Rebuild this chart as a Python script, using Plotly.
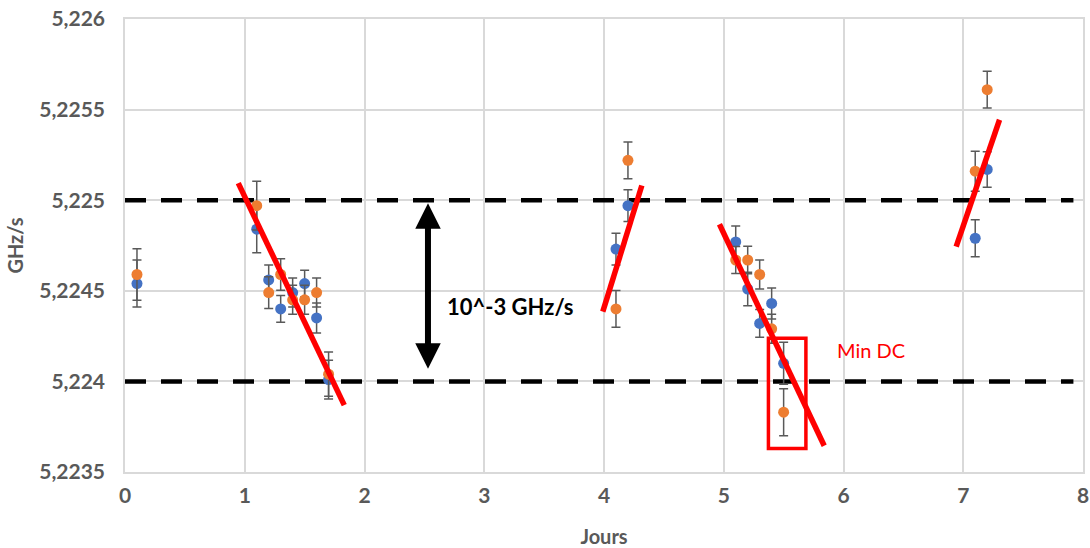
import plotly.graph_objects as go

# ---- data ----
blue_x = [0.1, 1.1, 1.2, 1.3, 1.4, 1.5, 1.6, 1.7, 4.1, 4.2, 5.1, 5.2, 5.3, 5.4, 5.5, 7.1, 7.2]
blue_y = [5.22454, 5.22484, 5.22456, 5.22440, 5.22449, 5.22454, 5.22435, 5.22401,
          5.22473, 5.22497, 5.22477, 5.22451, 5.22432, 5.22443, 5.22410, 5.22479, 5.22517]
blue_err = [0.00013, 0.00013, 0.000083, 0.000074, 0.00008, 0.000074, 0.000083, 0.000107,
            0.000088, 0.000088, 0.000087, 0.000092, 0.000077, 0.000085, 0.000116, 0.000102, 0.000098]

orange_x = [0.1, 1.1, 1.2, 1.3, 1.4, 1.5, 1.6, 1.7, 4.1, 4.2, 5.1, 5.2, 5.3, 5.4, 5.5, 7.1, 7.2]
orange_y = [5.22459, 5.22497, 5.22449, 5.22459, 5.22445, 5.22445, 5.22449, 5.22404,
            5.22440, 5.22522, 5.22467, 5.22467, 5.22459, 5.22429, 5.22383, 5.22516, 5.22561]
orange_err = [0.000142, 0.000134, 0.000087, 0.000087, 0.00008, 0.00008, 0.00008, 0.000122,
              0.000101, 0.000101, 0.000074, 0.000076, 0.00008, 0.00008, 0.00013, 0.00011, 0.000101]

# trend segments drawn by hand on the chart (x pairs, y pairs)
trend_x = [[0.946, 1.831], [3.99, 4.316], [4.964, 5.839], [6.941, 7.303]]
trend_y = [[5.225094, 5.223869], [5.224385, 5.225081], [5.224867, 5.223645], [5.224744, 5.225444]]

# reference bounds (dashed)
bound_levels = [5.225, 5.224]
bound_x = [0, 7.92]

# double arrow spanning 10^-3
arrow_x = 2.53
arrow_y = [5.224983, 5.224062]

# highlight box "Min DC"
box_x = [5.373, 5.686]
box_y = [5.22363, 5.224238]

x_ticks = [0, 1, 2, 3, 4, 5, 6, 7, 8]
y_ticks = [5.2235, 5.224, 5.2245, 5.225, 5.2255, 5.226]
y_ticklabels = ["5,2235", "5,224", "5,2245", "5,225", "5,2255", "5,226"]

BLUE = "#4472C4"
ORANGE = "#ED7D31"
ERR = "#595959"
GRID = "#D9D9D9"
TXT = "#595959"
FONT = "Lato"

fig = go.Figure()

for lvl in bound_levels:
    fig.add_trace(go.Scatter(x=bound_x, y=[lvl, lvl], mode="lines",
                             line=dict(color="black", width=4.5, dash="21px,15px"),
                             hoverinfo="skip", showlegend=False))

fig.add_trace(go.Scatter(
    x=blue_x, y=blue_y, mode="markers",
    marker=dict(color=BLUE, size=11),
    error_y=dict(type="data", array=blue_err, color=ERR, thickness=1.5, width=4.5),
    showlegend=False))
fig.add_trace(go.Scatter(
    x=orange_x, y=orange_y, mode="markers",
    marker=dict(color=ORANGE, size=11),
    error_y=dict(type="data", array=orange_err, color=ERR, thickness=1.5, width=4.5),
    showlegend=False))

for tx, ty in zip(trend_x, trend_y):
    fig.add_trace(go.Scatter(x=tx, y=ty, mode="lines",
                             line=dict(color="#FF0000", width=5.5),
                             hoverinfo="skip", showlegend=False))

fig.add_shape(type="rect", xref="x", yref="y",
              x0=box_x[0], x1=box_x[1], y0=box_y[0], y1=box_y[1],
              line=dict(color="#FF0000", width=3.5))

fig.add_annotation(x=arrow_x, y=arrow_y[0], ax=arrow_x, ay=arrow_y[1],
                   xref="x", yref="y", axref="x", ayref="y", text="",
                   showarrow=True, arrowhead=2, startarrowhead=2,
                   arrowside="end+start", arrowwidth=6, arrowsize=0.85,
                   startarrowsize=0.85, arrowcolor="black", standoff=0, startstandoff=0)

fig.add_annotation(x=2.672, y=5.224416, xref="x", yref="y", xanchor="left", yanchor="middle",
                   text="<b>10^-3 GHz/s</b>", showarrow=False,
                   font=dict(family=FONT, size=22, color="black"))

fig.add_annotation(x=5.931, y=5.224171, xref="x", yref="y", xanchor="left", yanchor="middle",
                   text="Min DC", showarrow=False,
                   font=dict(family=FONT, size=20, color="#FF0000"))

fig.update_layout(
    width=1090, height=548,
    margin=dict(l=125, r=7, t=19, b=76),
    paper_bgcolor="white", plot_bgcolor="white",
    font=dict(family=FONT, color=TXT),
    xaxis=dict(range=[0, 8], tickvals=x_ticks, showgrid=True, gridcolor=GRID, gridwidth=1.5,
               zeroline=False, showline=True, linecolor=GRID, linewidth=1.5, mirror=True,
               automargin=False, ticklabeloverflow="allow",
               tickfont=dict(family=FONT, size=21, color=TXT, weight="bold"),
               ticklabelstandoff=4,
               title=dict(text="<b>Jours</b>", font=dict(family=FONT, size=20, color=TXT), standoff=31)),
    yaxis=dict(range=[5.2235, 5.226], tickvals=y_ticks, ticktext=y_ticklabels,
               showgrid=True, gridcolor=GRID, gridwidth=1.5,
               zeroline=False, showline=True, linecolor=GRID, linewidth=1.5, mirror=True,
               automargin=False, ticklabeloverflow="allow",
               tickfont=dict(family=FONT, size=21, color=TXT, weight="bold"),
               ticklabelstandoff=14,
               title=dict(text="<b>GHz/s</b>", font=dict(family=FONT, size=20, color=TXT), standoff=10)),
)

# remove the default page margin so the figure fills the window exactly
fig.write_html("out.html",
               config={"displayModeBar": False},
               post_script="document.body.style.margin='0';document.body.style.overflow='hidden';")
